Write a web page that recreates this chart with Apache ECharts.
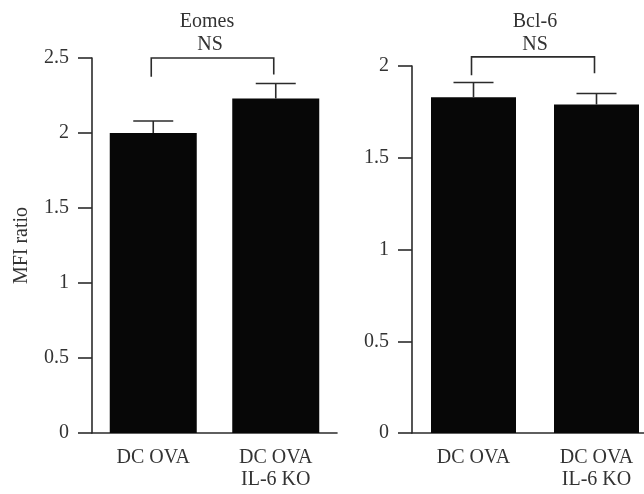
<!DOCTYPE html>
<html>
<head>
<meta charset="utf-8">
<script src="https://cdn.jsdelivr.net/npm/echarts@6/dist/echarts.min.js"></script>
<style>
  html, body { margin: 0; padding: 0; background: #fff; }
  #chart { width: 644px; height: 494px; }
</style>
</head>
<body>
<div id="chart"></div>
<script>
const categories = ['DC OVA', 'DC OVA\nIL-6 KO']

const eomesMean = [2.0, 2.23]
const eomesUpper = [2.08, 2.33]
const bclMean = [1.83, 1.79]
const bclUpper = [1.91, 1.85]

// bracket: [from category, to category, top, left leg end, right leg end]
const eomesBracket = [[0, 1, 2.5, 2.375, 2.39]]
const bclBracket = [[0, 1, 2.05, 1.95, 1.96]]

const eomesTicks = { min: 0, max: 2.5, interval: 0.5 }
const bclTicks = { min: 0, max: 2, interval: 0.5 }

const font = 'Liberation Serif'
const fs = 20
const ink = '#2b2b2b'
const txt = '#333'

const chart = echarts.init(document.getElementById('chart'))

function errorBars(xIdx, means, uppers) {
  return {
    type: 'custom',
    xAxisIndex: xIdx,
    yAxisIndex: xIdx,
    data: means.map((m, i) => [i, m, uppers[i]]),
    z: 5,
    renderItem: function (params, api) {
      const low = api.coord([api.value(0), api.value(1)])
      const high = api.coord([api.value(0), api.value(2)])
      const hw = 20
      const style = { stroke: ink, lineWidth: 1.6 }
      return {
        type: 'group',
        children: [
          { type: 'line', shape: { x1: low[0], y1: low[1], x2: high[0], y2: high[1] }, style },
          { type: 'line', shape: { x1: high[0] - hw, y1: high[1], x2: high[0] + hw, y2: high[1] }, style }
        ]
      }
    }
  }
}

function bracket(xIdx, data) {
  return {
    type: 'custom',
    xAxisIndex: xIdx,
    yAxisIndex: xIdx,
    clip: false,
    data: data,
    z: 5,
    renderItem: function (params, api) {
      const a = api.coord([api.value(0), api.value(2)])
      const b = api.coord([api.value(1), api.value(2)])
      const la = api.coord([api.value(0), api.value(3)])
      const lb = api.coord([api.value(1), api.value(4)])
      return {
        type: 'polyline',
        shape: { points: [[la[0] - 2, la[1]], [a[0] - 2, a[1]], [b[0] - 2, b[1]], [lb[0] - 2, lb[1]]] },
        style: { stroke: ink, lineWidth: 1.6, fill: null }
      }
    }
  }
}

function xAxis(idx) {
  return {
    type: 'category',
    gridIndex: idx,
    data: categories,
    axisLine: { lineStyle: { color: ink, width: 1.6 } },
    axisTick: { alignWithLabel: true, length: 10, lineStyle: { color: ink, width: 1.6 } },
    axisLabel: { color: txt, fontFamily: font, fontSize: fs, lineHeight: 22, margin: 14 }
  }
}

function yAxis(idx, ticks, extra) {
  return Object.assign({
    type: 'value',
    gridIndex: idx,
    min: ticks.min,
    max: ticks.max,
    interval: ticks.interval,
    splitLine: { show: false },
    axisLine: { show: true, lineStyle: { color: ink, width: 1.6 } },
    axisTick: { show: true, length: 14, lineStyle: { color: ink, width: 1.6 } },
    axisLabel: { color: txt, fontFamily: font, fontSize: fs, margin: 23 }
  }, extra || {})
}

function label(text, x, y) {
  return {
    type: 'text', x: x, y: y,
    style: { text: text, fill: txt, font: fs + 'px "' + font + '"', textAlign: 'center', textVerticalAlign: 'middle' }
  }
}

chart.setOption({
  animation: false,
  backgroundColor: '#fff',
  grid: [
    { left: 92, top: 58, width: 245, height: 375, outerBoundsMode: 'none' },
    { left: 412, top: 66, width: 246, height: 367, outerBoundsMode: 'none' }
  ],
  xAxis: [xAxis(0), xAxis(1)],
  yAxis: [
    yAxis(0, eomesTicks, {
      name: 'MFI ratio',
      nameLocation: 'middle',
      nameGap: 60,
      nameTextStyle: { color: txt, fontFamily: font, fontSize: fs }
    }),
    yAxis(1, bclTicks)
  ],
  graphic: [
    label('Eomes', 207, 22),
    label('NS', 210, 45),
    label('Bcl-6', 535, 22),
    label('NS', 535, 45)
  ],
  series: [
    { type: 'bar', xAxisIndex: 0, yAxisIndex: 0, data: eomesMean, barWidth: 87, itemStyle: { color: '#070707' } },
    { type: 'bar', xAxisIndex: 1, yAxisIndex: 1, data: bclMean, barWidth: 85, itemStyle: { color: '#070707' } },
    errorBars(0, eomesMean, eomesUpper),
    errorBars(1, bclMean, bclUpper),
    bracket(0, eomesBracket),
    bracket(1, bclBracket)
  ]
})
</script>
</body>
</html>
